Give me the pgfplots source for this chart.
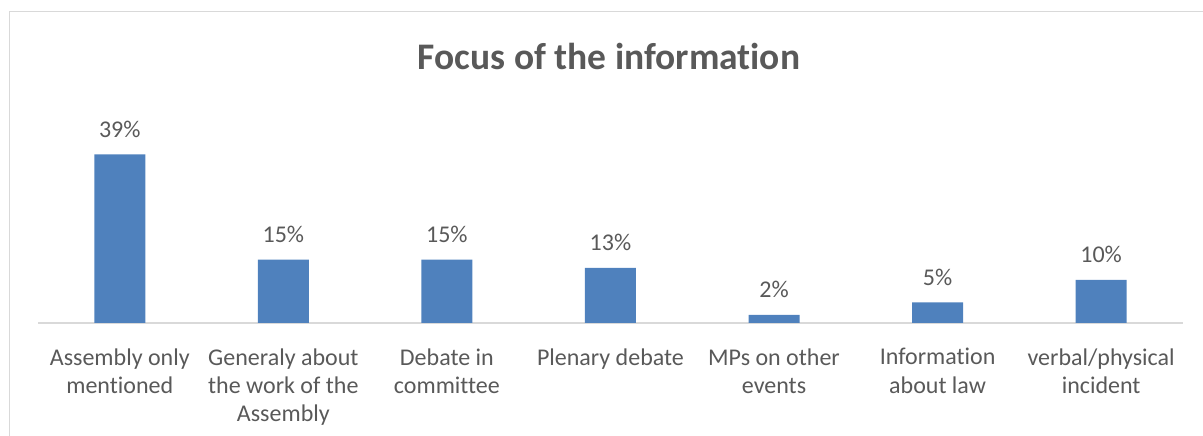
\documentclass[border=0pt]{standalone}
\usepackage{fontspec}
\setmainfont{Carlito}[Ligatures=NoCommon]
\usepackage{pgfplots}
\pgfplotsset{compat=1.18}
\definecolor{barblue}{HTML}{4F81BD}
\definecolor{txtgray}{HTML}{595959}
\definecolor{linegray}{HTML}{D9D9D9}
\begin{document}
\begin{tikzpicture}
\useasboundingbox (0pt,0pt) rectangle (1203pt,436pt);
\draw[linegray, line width=1.5pt] (9.5pt,-5pt) -- (9.5pt,424.5pt) -- (1210pt,424.5pt);
\node[txtgray, font=\fontsize{37.5}{44}\selectfont\bfseries] at (609pt,380pt) {Focus of the information};
\begin{axis}[
  at={(38pt,113pt)}, anchor=south west,
  scale only axis, width=1145pt, height=192.6pt,
  xmin=-0.5, xmax=6.5, ymin=0, ymax=45,
  axis y line=none, axis x line=bottom,
  axis line style={-, linegray, line width=1.3pt},
  ytick=\empty,
  xtick=data, xtick style={draw=none},
  xticklabels={{Assembly only\\mentioned},{Generaly about\\the work of the\\Assembly},{Debate in\\committee},{Plenary debate},{MPs on other\\events},{Information\\about law},{verbal/physical\\incident}},
  xticklabel style={anchor=north, inner sep=0pt, yshift=-21pt, align=center, text=txtgray, font=\fontsize{24}{28.3}\selectfont},
  ybar, bar width=51pt,
  clip=false,
  /pgf/number format/assume math mode=true,
  nodes near coords={\pgfmathprintnumber[fixed,precision=0,assume math mode=true]{\pgfplotspointmeta}\%},
  every node near coord/.append style={anchor=base, yshift=17pt, inner sep=0pt, text=txtgray, font=\fontsize{24}{28.3}\selectfont},
]
\addplot[fill=barblue, draw=none] coordinates {(0,39.4) (1,14.8) (2,14.8) (3,12.9) (4,1.9) (5,4.8) (6,10.1)};
\end{axis}
\end{tikzpicture}
\end{document}
